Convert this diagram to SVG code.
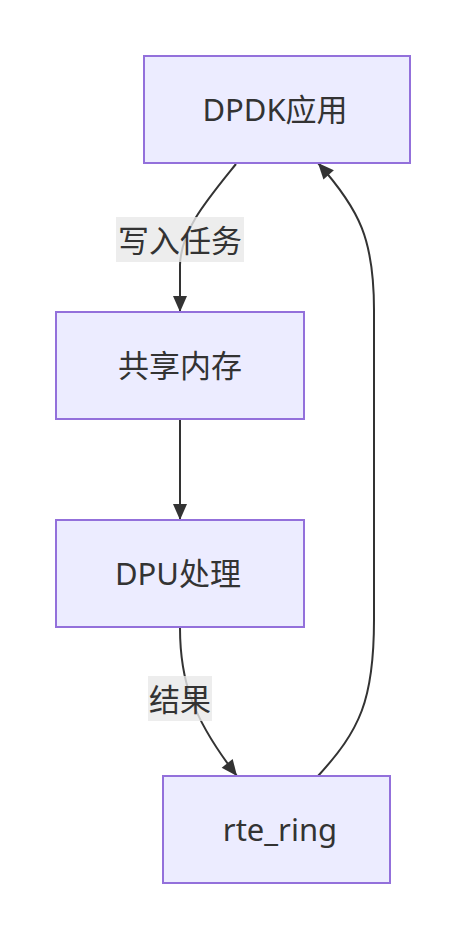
<svg xmlns="http://www.w3.org/2000/svg" width="465" height="940" viewBox="0 0 465 940">
<style>
.node rect{fill:#ECECFF;stroke:#9370DB;stroke-width:2}
.node text, .lbl text{font-family:"Noto Sans","Noto Sans CJK SC",sans-serif;font-size:31px;fill:#333;text-anchor:middle;dominant-baseline:central}
.edge{fill:none;stroke:#333;stroke-width:2}
.lbl rect{fill:#e8e8e8;opacity:0.8}
</style>
<defs>
<marker id="arr" markerUnits="userSpaceOnUse" markerWidth="18" markerHeight="18" viewBox="0 0 18 18" refX="17" refY="9" orient="auto">
<path d="M1,2 L17,9 L1,16 Z" fill="#333"/>
</marker>
</defs>
<rect width="465" height="940" fill="#fff"/>
<g id="connectors">
<path class="edge" d="M236,164 C207,200 181,230 180,265 L180,312" marker-end="url(#arr)"/>
<path class="edge" d="M180,420 L180,520" marker-end="url(#arr)"/>
<path class="edge" d="M180,628 C180,680 192,718 237,776" marker-end="url(#arr)"/>
<path class="edge" d="M318,776 C360,730 374,700 374,620 L374,310 C374,240 360,210 318,163" marker-end="url(#arr)"/>
</g>
<g id="label1" class="lbl"><rect x="116" y="217" width="128" height="45"/><text x="180" y="239.5">写入任务</text></g>
<g id="label2" class="lbl"><rect x="148" y="676" width="64" height="45"/><text x="180" y="698.5">结果</text></g>
<g id="node-dpdk" class="node"><rect x="144" y="56" width="266" height="107"/><text x="275" y="108.5">DPDK应用</text></g>
<g id="node-shm" class="node"><rect x="56" y="312" width="248" height="107"/><text x="180" y="364.5">共享内存</text></g>
<g id="node-dpu" class="node"><rect x="56" y="520" width="248" height="107"/><text x="178" y="572.5">DPU处理</text></g>
<g id="node-ring" class="node"><rect x="163" y="776" width="227" height="107"/><text x="280" y="828.5">rte_ring</text></g>
</svg>
